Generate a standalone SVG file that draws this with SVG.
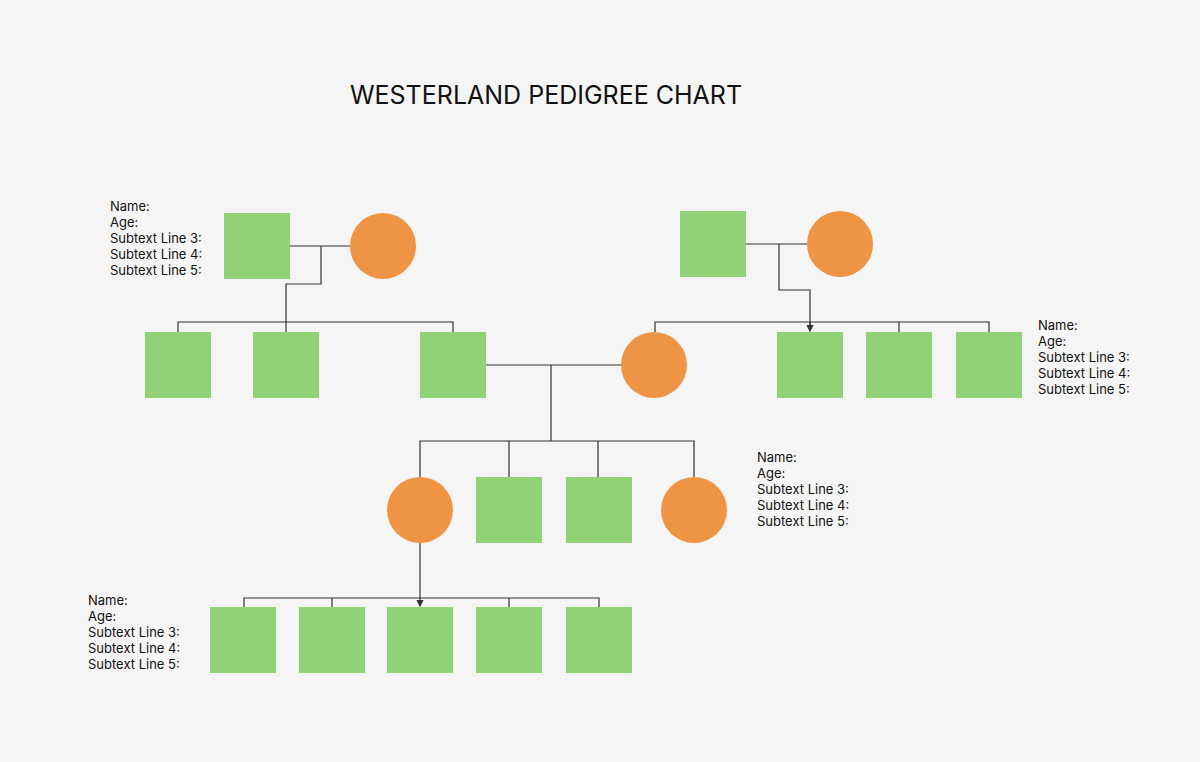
<svg xmlns="http://www.w3.org/2000/svg" width="1200" height="762" viewBox="0 0 1200 762">
<style>
.sq{fill:#92d277}
.ci{fill:#ef9444}
.ln{fill:none;stroke:#333;stroke-width:1.2}
.t{font-family:"Inter","Liberation Sans",sans-serif;font-size:13px;fill:#111}
.title{font-family:"Inter","Liberation Sans",sans-serif;font-size:25px;fill:#111}
</style>
<defs><marker id="a" markerWidth="6" markerHeight="6" refX="5" refY="3" orient="auto"><path d="M0,0L6,3L0,6z" fill="#333"/></marker></defs>
<rect width="1200" height="762" fill="#f5f5f5"/>
<text class="title" x="546" y="104" text-anchor="middle">WESTERLAND PEDIGREE CHART</text>
<g id="connectors">
<path class="ln" d="M290,246H350M321,246V284H286V332M178,332V322H453V332M286,322V332"/>
<path class="ln" d="M746,244H807M779,244V290H810V331" marker-end="url(#a)"/>
<path class="ln" d="M655,332V322H989V332M899,322V332M810,322V325"/>
<path class="ln" d="M486,365H621M551,365V441M420,477V441H694V477M509,441V477M598,441V477"/>
<path class="ln" d="M420,543V606" marker-end="url(#a)"/>
<path class="ln" d="M244,607V598H599V607M332,598V607M509,598V607"/>
</g>
<g id="g1l"><rect class="sq" x="224" y="213" width="66" height="66"/><circle class="ci" cx="383" cy="246" r="33"/></g>
<g id="g1r"><rect class="sq" x="680" y="211" width="66" height="66"/><circle class="ci" cx="840" cy="244" r="33"/></g>
<g id="g2"><rect class="sq" x="145" y="332" width="66" height="66"/><rect class="sq" x="253" y="332" width="66" height="66"/><rect class="sq" x="420" y="332" width="66" height="66"/><circle class="ci" cx="654" cy="365" r="33"/><rect class="sq" x="777" y="332" width="66" height="66"/><rect class="sq" x="866" y="332" width="66" height="66"/><rect class="sq" x="956" y="332" width="66" height="66"/></g>
<g id="g3"><circle class="ci" cx="420" cy="510" r="33"/><rect class="sq" x="476" y="477" width="66" height="66"/><rect class="sq" x="566" y="477" width="66" height="66"/><circle class="ci" cx="694" cy="510" r="33"/></g>
<g id="g4"><rect class="sq" x="210" y="607" width="66" height="66"/><rect class="sq" x="299" y="607" width="66" height="66"/><rect class="sq" x="387" y="607" width="66" height="66"/><rect class="sq" x="476" y="607" width="66" height="66"/><rect class="sq" x="566" y="607" width="66" height="66"/></g>
<g id="labels" class="t">
<text x="110" y="211"><tspan x="110">Name:</tspan><tspan x="110" dy="16">Age:</tspan><tspan x="110" dy="16">Subtext Line 3:</tspan><tspan x="110" dy="16">Subtext Line 4:</tspan><tspan x="110" dy="16">Subtext Line 5:</tspan></text>
<text x="1038" y="330"><tspan x="1038">Name:</tspan><tspan x="1038" dy="16">Age:</tspan><tspan x="1038" dy="16">Subtext Line 3:</tspan><tspan x="1038" dy="16">Subtext Line 4:</tspan><tspan x="1038" dy="16">Subtext Line 5:</tspan></text>
<text x="757" y="462"><tspan x="757">Name:</tspan><tspan x="757" dy="16">Age:</tspan><tspan x="757" dy="16">Subtext Line 3:</tspan><tspan x="757" dy="16">Subtext Line 4:</tspan><tspan x="757" dy="16">Subtext Line 5:</tspan></text>
<text x="88" y="605"><tspan x="88">Name:</tspan><tspan x="88" dy="16">Age:</tspan><tspan x="88" dy="16">Subtext Line 3:</tspan><tspan x="88" dy="16">Subtext Line 4:</tspan><tspan x="88" dy="16">Subtext Line 5:</tspan></text>
</g>
</svg>
